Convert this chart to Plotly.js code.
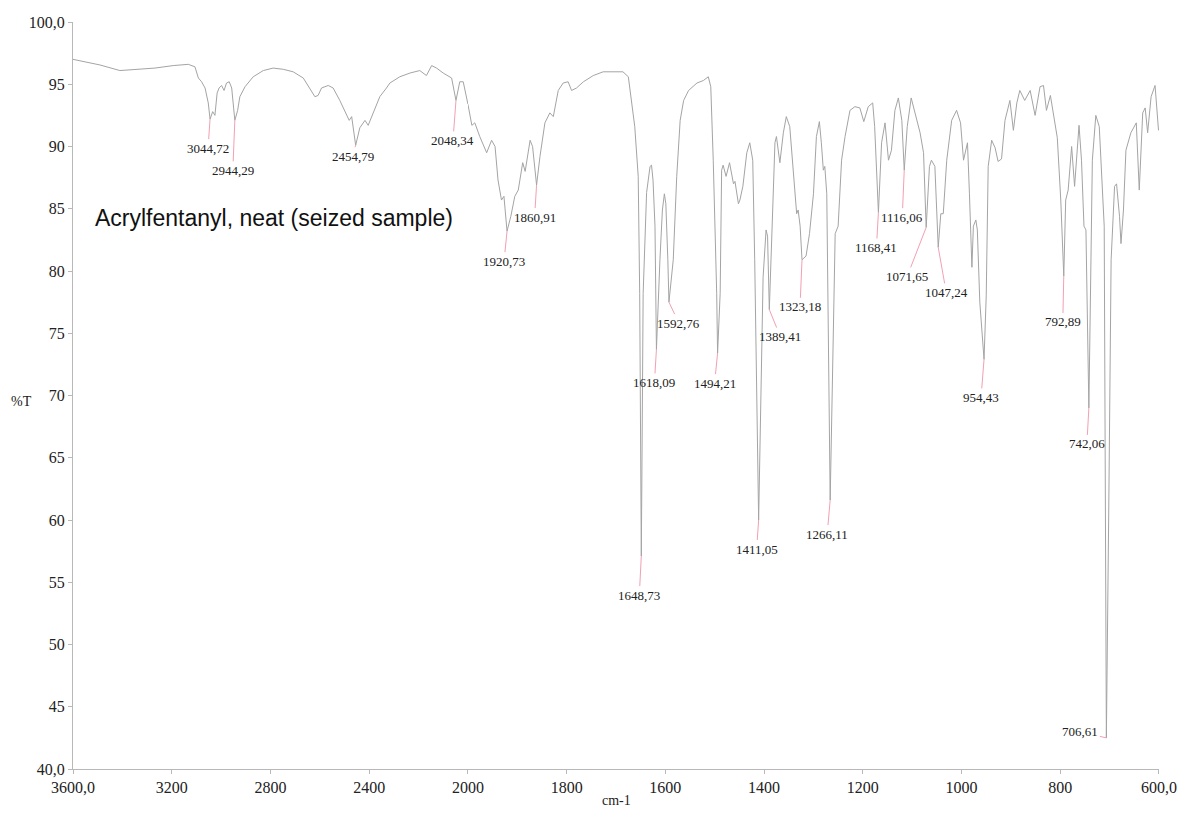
<!DOCTYPE html>
<html>
<head>
<meta charset="utf-8">
<script src="https://cdn.plot.ly/plotly-3.0.1.min.js"></script>
<style>html,body{margin:0;padding:0;background:#fff;}#chart{width:1183px;height:816px;}</style>
</head>
<body>
<div id="chart"></div>
<script>
// Wavenumber (cm-1) and transmittance (%T)
const wavenumber = [
3600,3545,3491,3410,3329,3268,3194,3133,3106,3092,3079,3065,3052,3044.72,3034,3025,3016,3008,2998,2988,
2978,2967,2957,2951,2944.29,2933,2924,2903,2870,2829,2789,2748,2708,2667,2633,2620,2607,2593,2566,2546,
2519,2492,2481,2471,2454.79,2438,2417,2404,2384,2357,2330,2316,2276,2235,2195,2168,2147,2127,2100,2066,
2048.34,2033,2019,2005,2000,1992,1986,1976,1962,1952,1945,1939,1932,1927,1920.73,1913,1905,1898,1889,1884,
1874,1869,1860.91,1854,1844,1834,1827,1817,1807,1797,1790,1780,1766,1746,1726,1706,1686,1675,1669,1662,
1655,1652,1648.73,1645,1638,1631,1628,1625,1621,1618.09,1611,1606,1602,1599,1595,1592.76,1584,1577,1570,1563,
1553,1536,1523,1513,1508,1503,1496,1494.21,1489,1486,1483,1477,1470,1462,1459,1452,1449,1443,1435,1429,
1423,1419,1411.05,1402,1396,1393,1389.41,1383,1378,1375,1368,1361,1355,1348,1341,1334,1331,1327,1323.18,1315,
1308,1300,1294,1288,1284,1280,1277,1273,1266.11,1256,1250,1243,1236,1226,1216,1206,1198,1189,1180,1176,
1168.41,1162,1155,1148,1142,1135,1128,1121,1116.06,1110,1102,1094,1084,1077,1071.65,1065,1061,1054,1047.24,1042,
1037,1030,1020,1010,1002,996,988,984,979,976,971,968,963,954.43,950,946,939,932,926,919,
912,902,895,888,882,872,861,851,841,834,828,820,813,806,799,792.89,789,784,777,771,
762,757,752,748,742.06,739,735,728,721,711,706.61,702,697,690,686,680,677,672,667,657,
646,640,633,628,623,616,608,601
];
const transmittance = [
97.0,96.8,96.55,96.1,96.2,96.3,96.5,96.6,96.4,95.5,95.2,94.7,93.5,92.2,92.8,92.5,94.3,94.7,94.9,94.5,
95.1,95.2,94.7,93.7,92.1,92.9,94.0,94.8,95.6,96.1,96.3,96.2,96.0,95.5,94.4,94.0,94.1,94.7,94.9,94.7,
93.7,92.5,92.1,92.4,90.1,91.5,92.1,91.7,92.7,94.0,94.7,95.1,95.6,95.9,96.1,95.7,96.5,96.3,95.9,95.5,
93.7,95.2,95.2,94.0,93.4,91.7,91.9,90.8,89.5,90.5,90.0,87.3,85.7,86.0,83.2,84.4,86.0,86.5,88.7,88.0,
90.5,90.0,86.9,89.2,91.9,92.7,92.4,94.5,95.1,95.2,94.5,94.7,95.2,95.7,96.0,96.0,96.0,95.6,93.7,91.6,
87.6,78.2,57.1,78.2,86.3,88.4,88.5,87.3,83.6,73.7,80.9,84.9,86.2,85.4,80.9,77.5,80.9,87.6,92.1,93.7,
94.5,95.1,95.3,95.6,94.8,88.9,78.2,73.4,78.2,88.1,88.5,87.6,88.7,87.0,87.2,85.4,85.7,86.8,89.5,90.3,
88.9,80.9,60.0,79.5,83.3,82.8,76.9,84.9,90.3,90.8,88.7,91.1,92.4,91.6,88.1,84.6,84.9,83.6,80.9,81.2,
83.0,86.2,90.8,92.0,90.3,88.1,88.4,86.2,61.6,83.0,83.6,88.9,90.8,92.9,93.2,93.1,92.0,93.2,93.5,91.6,
84.7,90.3,91.9,88.9,89.7,92.9,93.9,92.1,88.1,91.6,93.9,92.7,91.1,89.5,83.5,88.4,88.9,88.4,81.9,84.6,
84.6,88.9,92.1,92.9,91.9,88.9,90.3,86.2,80.3,83.6,84.1,83.3,77.5,72.9,78.0,88.4,90.5,89.9,88.8,89.0,
92.1,93.7,91.3,93.5,94.5,93.7,94.5,92.5,94.8,94.9,92.9,94.1,92.4,90.7,85.7,79.6,85.7,86.5,90.0,86.8,
91.7,88.9,83.6,83.3,69.0,80.0,88.9,92.5,91.6,83.6,42.5,60.0,80.9,86.8,87.0,84.4,82.2,84.9,89.7,91.1,
91.9,86.5,92.7,93.1,91.1,94.0,94.9,91.3
];

// Labelled peaks
const peakWavenumber = [3044.72,2944.29,2454.79,2048.34,1920.73,1860.91,1648.73,1618.09,1592.76,1494.21,1411.05,1389.41,1323.18,1266.11,1168.41,1116.06,1071.65,1047.24,954.43,792.89,742.06,706.61];
const peakTransmittance = [92.2,92.1,90.1,93.7,83.2,86.9,57.1,73.7,77.5,73.4,60.0,76.9,80.9,61.6,84.7,88.1,83.5,81.9,72.9,79.6,69.0,42.5];
// label offsets (pixels) from the peak tip
const labelDx = [-2,-2,-3,-3,-3,-2,-2,-2,10,-3,-2,11,-2,-3,-2,-2,-19,8,-3,-1,-2,-26];
const labelDy = [29,50,11,40,30,32,39,33,21,30,29,27,47,34,35,47,49,45,38,46,36,-6];

const xTicksHigh = [3600,3200,2800,2400];
const xTickTextHigh = ['3600,0','3200','2800','2400'];
const xTicksLow = [2000,1800,1600,1400,1200,1000,800,600];
const xTickTextLow = ['2000','1800','1600','1400','1200','1000','800','600,0'];
const yTicks = [40,45,50,55,60,65,70,75,80,85,90,95,100];
const yTickText = ['40,0','45','50','55','60','65','70','75','80','85','90','95','100,0'];

const hiX=[],hiY=[],loX=[],loY=[];
wavenumber.forEach((w,i)=>{
  if (w>=2000){hiX.push(w);hiY.push(transmittance[i]);}
  if (w<=2000){loX.push(w);loY.push(transmittance[i]);}
});

const lineStyle = {color:'#a4a4a4', width:1};
const traces = [
  {x:hiX, y:hiY, xaxis:'x', yaxis:'y', type:'scatter', mode:'lines', line:lineStyle, hoverinfo:'skip'},
  {x:loX, y:loY, xaxis:'x2', yaxis:'y', type:'scatter', mode:'lines', line:lineStyle, hoverinfo:'skip'}
];

const serif = 'Liberation Serif, Times New Roman, serif';
const axisCommon = {
  showline:true, linecolor:'#b8b8b8', linewidth:1, ticks:'outside', ticklen:4, tickcolor:'#b8b8b8',
  showgrid:false, zeroline:false, tickfont:{family:serif, size:16, color:'#222'}, fixedrange:true
};

const annotations = peakWavenumber.map((w,i)=>({
  x:w, y:peakTransmittance[i], xref: w>=2000 ? 'x':'x2', yref:'y',
  text: w.toFixed(2).replace('.', ','),
  showarrow:true, arrowhead:0, arrowwidth:1, arrowcolor:'#f2a0b2',
  ax:labelDx[i], ay:labelDy[i],
  font:{family:serif, size:13, color:'#222'}
}));
annotations.push({
  xref:'paper', yref:'paper', x:0.0185, y:0.7376, xanchor:'left', yanchor:'middle',
  text:'Acrylfentanyl, neat (seized sample)', showarrow:false,
  font:{family:'Liberation Sans, Arial, sans-serif', size:23, color:'#111'}
});
annotations.push({
  xref:'paper', yref:'paper', x:-0.047, y:0.4926, xanchor:'center', yanchor:'middle',
  text:'%T', showarrow:false, font:{family:serif, size:14, color:'#222'}
});
annotations.push({
  xref:'paper', yref:'paper', x:0.5, y:-0.0415, xanchor:'center', yanchor:'middle',
  text:'cm-1', showarrow:false, font:{family:serif, size:14, color:'#222'}
});

const layout = {
  width:1183, height:816,
  margin:{l:73, r:24, t:22, b:47},
  paper_bgcolor:'#fff', plot_bgcolor:'#fff',
  showlegend:false,
  xaxis:Object.assign({}, axisCommon, {domain:[0,4/11], range:[3600,2000], anchor:'y', tickvals:xTicksHigh, ticktext:xTickTextHigh}),
  xaxis2:Object.assign({}, axisCommon, {domain:[4/11,1], range:[2000,600], anchor:'y', tickvals:xTicksLow, ticktext:xTickTextLow}),
  yaxis:Object.assign({}, axisCommon, {range:[40,100], anchor:'x', tickvals:yTicks, ticktext:yTickText}),
  annotations:annotations
};

Plotly.newPlot('chart', traces, layout, {displayModeBar:false, staticPlot:true});
</script>
</body>
</html>
